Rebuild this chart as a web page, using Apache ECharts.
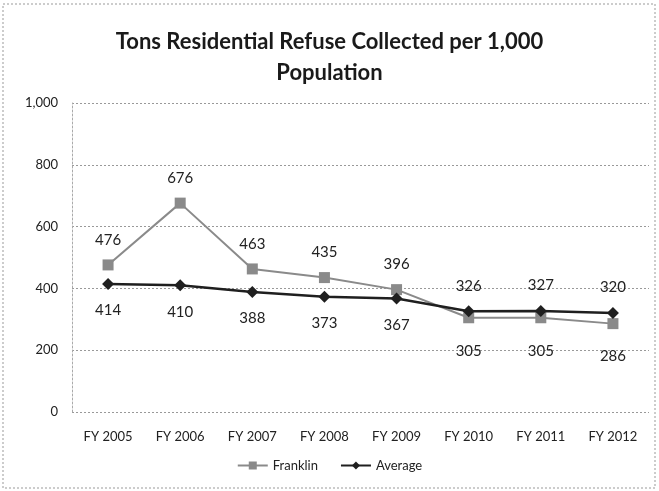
<!DOCTYPE html>
<html>
<head>
<meta charset="utf-8">
<script src="https://cdn.jsdelivr.net/npm/echarts@6/dist/echarts.min.js"></script>
<style>
  html, body { margin: 0; padding: 0; background: #fff; }
  #chart { width: 659px; height: 491px; }
</style>
</head>
<body>
<div id="chart"></div>
<script>
const categories = ['FY 2005', 'FY 2006', 'FY 2007', 'FY 2008', 'FY 2009', 'FY 2010', 'FY 2011', 'FY 2012'];
const franklin = [476, 676, 463, 435, 396, 305, 305, 286];
const average = [414, 410, 388, 373, 367, 326, 327, 320];
const yTicks = [0, 200, 400, 600, 800, 1000];

const chart = echarts.init(document.getElementById('chart'));

// Franklin labels sit above until the lines cross, then below; Average the other way
const labelFont = { fontFamily: 'Lato', fontSize: 15, color: '#222' };
function pointData(values, aboveFirst, below) {
  return values.map((v, i) => {
    const above = i < 5 ? aboveFirst : !aboveFirst;
    return {
      value: v,
      label: { position: above ? 'top' : 'bottom', distance: above ? 12 : below }
    };
  });
}

const option = {
  backgroundColor: '#fff',
  title: {
    text: 'Tons Residential Refuse Collected per 1,000\nPopulation',
    left: 'center',
    top: 21,
    textStyle: { fontFamily: 'Lato', fontSize: 22, fontWeight: 'bold', color: '#1a1a1a', lineHeight: 31 }
  },
  graphic: [{
    type: 'rect',
    shape: { x: 3, y: 4, width: 652, height: 484 },
    style: { fill: 'none', stroke: '#999', lineWidth: 1, lineDash: [2, 2] },
    silent: true
  }],
  legend: {
    bottom: 14,
    left: 'center',
    itemWidth: 30,
    itemHeight: 10,
    itemGap: 22,
    textStyle: { fontFamily: 'Lato', fontSize: 13, color: '#222' },
    data: ['Franklin', 'Average']
  },
  grid: { left: 72, right: 10, top: 103, bottom: 79 },
  xAxis: {
    type: 'category',
    data: categories,
    boundaryGap: true,
    axisLine: { show: false },
    axisTick: { show: false },
    axisLabel: { fontFamily: 'Lato', fontSize: 13, color: '#222', margin: 18 }
  },
  yAxis: {
    type: 'value',
    min: yTicks[0],
    max: yTicks[yTicks.length - 1],
    interval: 200,
    axisLine: { show: true, lineStyle: { color: '#aaa', type: [2, 2] } },
    axisTick: { show: false },
    axisLabel: {
      fontFamily: 'Lato', fontSize: 13, color: '#222', margin: 14,
      formatter: (v) => v.toLocaleString('en-US')
    },
    splitLine: { lineStyle: { color: '#999', type: [2, 2] } }
  },
  series: [
    {
      name: 'Franklin',
      type: 'line',
      symbol: 'rect',
      symbolSize: 11,
      itemStyle: { color: '#8a8a8a' },
      lineStyle: { color: '#8a8a8a', width: 2 },
      label: { show: true, ...labelFont },
      data: pointData(franklin, true, 20),
      z: 2
    },
    {
      name: 'Average',
      type: 'line',
      symbol: 'diamond',
      symbolSize: 12,
      itemStyle: { color: '#1f1f1f' },
      lineStyle: { color: '#1f1f1f', width: 2.5 },
      label: { show: true, ...labelFont },
      data: pointData(average, false, 13),
      z: 3
    }
  ]
};

chart.setOption(option);
</script>
</body>
</html>
